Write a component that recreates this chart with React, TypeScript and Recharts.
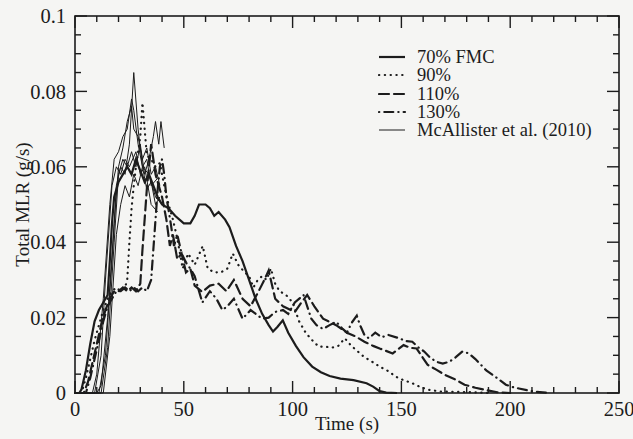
import React from "react";
import { LineChart, Line, XAxis, YAxis, Legend } from "recharts";

// [time s, total MLR g/s]
const FMC70: [number, number][] = [
  [0, 0], [2, 0], [3, 0.001], [5, 0.006], [7, 0.013], [9, 0.019], [11, 0.022], [13, 0.024],
  [15, 0.026], [16, 0.035], [17, 0.045], [18, 0.052], [20, 0.056], [22, 0.058], [24, 0.06],
  [26, 0.058], [28, 0.062], [30, 0.059], [32, 0.056], [34, 0.058], [36, 0.055], [38, 0.052],
  [40, 0.05], [43, 0.049], [46, 0.047], [50, 0.045], [53, 0.045], [55, 0.047], [57, 0.05],
  [60, 0.05], [62, 0.049], [64, 0.047], [66, 0.048], [69, 0.046], [71, 0.044], [74, 0.039],
  [77, 0.035], [80, 0.03], [83, 0.025], [86, 0.021], [89, 0.018], [91, 0.0163], [93, 0.0175],
  [95.5, 0.0193], [98, 0.016], [101.5, 0.0125], [105, 0.0095], [109, 0.007], [113, 0.0055],
  [117, 0.0045], [122, 0.0038], [128, 0.0034], [134, 0.0026], [137, 0.0017], [140, 0.0005],
  [143, 0.0001], [148, 0],
];

const FMC90: [number, number][] = [
  [0, 0], [3, 0], [5, 0.004], [7, 0.009], [9, 0.014], [11, 0.018], [13, 0.022], [15, 0.025],
  [17, 0.027], [19, 0.028], [21, 0.027], [23, 0.028], [24, 0.03], [25, 0.04], [26, 0.049],
  [27, 0.055], [28, 0.06], [30, 0.068], [31, 0.077], [32, 0.07], [33, 0.063], [35, 0.062],
  [37, 0.06], [39, 0.061], [41, 0.055], [43, 0.05], [45, 0.046], [47, 0.041], [49.5, 0.033],
  [52, 0.037], [55, 0.034], [58.7, 0.039], [61, 0.033], [64, 0.032], [67, 0.032], [70, 0.033],
  [72.5, 0.037], [75, 0.034], [78, 0.032], [80, 0.031], [82, 0.028], [84, 0.03], [86, 0.031],
  [88, 0.03], [90, 0.033], [92, 0.029], [94, 0.027], [97, 0.026], [100, 0.024], [103, 0.019],
  [106, 0.016], [109, 0.014], [112, 0.0123], [115, 0.0123], [118, 0.012], [121, 0.0125],
  [124, 0.0145], [127, 0.0125], [130, 0.011], [133, 0.0095], [136, 0.0085], [140, 0.007],
  [144, 0.0058], [147.5, 0.0043], [151, 0.0034], [155, 0.0026], [159, 0.0015], [163, 0.0008],
  [168, 0.0004], [175, 0.0003], [182, 0.0002], [190, 0],
];

const FMC110: [number, number][] = [
  [0, 0], [4, 0], [6, 0.003], [8, 0.008], [10, 0.013], [12, 0.018], [14, 0.022], [16, 0.025],
  [18, 0.027], [20, 0.027], [22, 0.028], [24, 0.027], [26, 0.028], [28, 0.027], [30, 0.029],
  [31, 0.038], [32, 0.046], [33, 0.054], [34, 0.06], [35, 0.066], [36, 0.062], [37, 0.058],
  [38, 0.056], [40, 0.052], [42, 0.046], [43.6, 0.039], [45, 0.042], [47, 0.0355], [49, 0.037],
  [51, 0.032], [53, 0.033], [55, 0.0285], [58.5, 0.0268], [62, 0.0285], [66, 0.029],
  [69.6, 0.027], [73, 0.03], [77, 0.025], [80.7, 0.023], [84.4, 0.027], [87, 0.03],
  [89, 0.0325], [92, 0.025], [95.6, 0.023], [101, 0.0215], [104, 0.024], [106.7, 0.026],
  [110, 0.023], [114, 0.0197], [120, 0.018], [125, 0.016], [129, 0.015], [133, 0.0136],
  [137, 0.0125], [140, 0.0118], [146, 0.0105], [151, 0.0127], [154, 0.012], [157, 0.0118],
  [162, 0.0075], [166, 0.0062], [170, 0.0048], [175, 0.0035], [179, 0.0022], [184, 0.0014],
  [188, 0.0009], [194, 0.0002], [200, 0],
];

const FMC130: [number, number][] = [
  [0, 0], [5, 0], [7, 0.004], [9, 0.009], [11, 0.014], [13, 0.019], [15, 0.023], [17, 0.025],
  [19, 0.027], [21, 0.027], [23, 0.028], [25, 0.027], [27, 0.028], [29, 0.027], [31, 0.028],
  [33, 0.027], [35, 0.03], [36, 0.038], [37, 0.046], [38, 0.054], [39, 0.06], [40, 0.062],
  [41, 0.058], [42, 0.052], [44, 0.045], [45.5, 0.039], [47, 0.042], [49, 0.037], [51, 0.0346],
  [53, 0.033], [55, 0.031], [58.5, 0.024], [62, 0.027], [65, 0.025], [67.7, 0.022], [70, 0.023],
  [73, 0.025], [77, 0.0197], [80.7, 0.022], [83, 0.021], [86, 0.0197], [89, 0.02], [92, 0.0215],
  [95.6, 0.022], [98, 0.021], [101, 0.024], [105, 0.026], [108.6, 0.0197], [111, 0.018],
  [114, 0.017], [117, 0.018], [120, 0.0189], [123, 0.017], [125, 0.016], [127, 0.0185],
  [129.5, 0.0205], [131, 0.018], [133, 0.0154], [135, 0.0145], [138, 0.016], [141, 0.0148],
  [144, 0.0154], [149, 0.0145], [152, 0.0138], [155, 0.0136], [158, 0.012], [160.5, 0.011],
  [163, 0.0095], [166, 0.0083], [169, 0.0078], [172, 0.0083], [175, 0.0095], [178, 0.011],
  [181, 0.0105], [184, 0.009], [186.5, 0.0075], [189, 0.006], [192, 0.0048], [195, 0.0035],
  [198, 0.0022], [201, 0.0016], [204, 0.0012], [208, 0.0007], [212, 0.0003], [218, 0],
];

// McAllister et al. (2010) experimental repeats, thin solid
const EXP1: [number, number][] = [
  [0, 0], [10, 0], [12, 0.002], [15, 0.02], [18, 0.045], [20, 0.06], [22, 0.065], [24, 0.072],
  [26, 0.076], [27, 0.07], [29, 0.068], [31, 0.062], [33, 0.065], [35, 0.058], [37, 0.06], [39, 0.055],
];
const EXP2: [number, number][] = [
  [0, 0], [11, 0], [14, 0.01], [17, 0.035], [19, 0.055], [21, 0.06], [23, 0.058], [25, 0.066],
  [27, 0.085], [29, 0.07], [31, 0.06], [33, 0.062], [35, 0.055], [38, 0.057],
];
const EXP3: [number, number][] = [
  [0, 0], [12, 0], [15, 0.012], [18, 0.04], [20, 0.058], [22, 0.062], [24, 0.06], [26, 0.064],
  [28, 0.06], [30, 0.066], [32, 0.058], [34, 0.062], [36, 0.068], [37, 0.072], [38.5, 0.066],
  [39.5, 0.072], [41, 0.065],
];
const EXP4: [number, number][] = [
  [0, 0], [8, 0], [10, 0.005], [13, 0.025], [16, 0.05], [18, 0.062], [20, 0.064], [22, 0.068],
  [24, 0.07], [26, 0.078], [27, 0.075], [29, 0.066], [31, 0.06], [34, 0.058], [37, 0.052], [40, 0.05],
];
const EXP5: [number, number][] = [
  [0, 0], [13, 0], [16, 0.015], [19, 0.042], [21, 0.05], [23, 0.055], [25, 0.052], [27, 0.058],
  [29, 0.055], [31, 0.06], [33, 0.054], [35, 0.056], [37, 0.05], [39, 0.052],
];
const EXP6: [number, number][] = [
  [0, 0], [9, 0], [12, 0.01], [14, 0.03], [17, 0.055], [19, 0.06], [21, 0.058], [23, 0.062],
  [25, 0.06], [28, 0.064], [30, 0.058], [32, 0.06], [35, 0.05], [38, 0.048],
];

const X_MAJOR = [0, 50, 100, 150, 200, 250];
const X_MINOR = [10, 20, 30, 40, 60, 70, 80, 90, 110, 120, 130, 140, 160, 170, 180, 190, 210, 220, 230, 240];
const Y_MAJOR = [0, 0.02, 0.04, 0.06, 0.08, 0.1];
const Y_MINOR = [0.005, 0.01, 0.015, 0.025, 0.03, 0.035, 0.045, 0.05, 0.055, 0.065, 0.07, 0.075, 0.085, 0.09, 0.095];

const LEGEND_ITEMS = [
  { name: "70% FMC", dash: undefined, width: 2.2 },
  { name: "90%", dash: "0.3 5.5", width: 2.2 },
  { name: "110%", dash: "10 5", width: 2.2 },
  { name: "130%", dash: "0.3 5 9 5", width: 2.2 },
  { name: "McAllister et al. (2010)", dash: undefined, width: 1 },
];

const W = 633;
const H = 439;
const MARGIN = { top: 16, right: 14, bottom: 16, left: 15 };
const Y_AXIS_W = 60;
const X_AXIS_H = 30;
const INK = "#1c1c1c";
const FONT = "'Liberation Serif', 'Times New Roman', serif";
const FS = 19;
const TICK_FS = 20.5;
const X_MAX = 250;
const Y_MAX = 0.1;
const MAJOR = 12;
const MINOR = 6;

const toPts = (arr: [number, number][]) => arr.map(([t, v]) => ({ t, v }));

const SIM = [
  { key: "70% FMC", data: FMC70, dash: undefined },
  { key: "90%", data: FMC90, dash: "0.3 5.5" },
  { key: "110%", data: FMC110, dash: "10 5" },
  { key: "130%", data: FMC130, dash: "0.3 5 9 5" },
];
const EXP = [EXP1, EXP2, EXP3, EXP4, EXP5, EXP6];

// box frame with inward ticks on all four sides, laid over the plot area
function Frame() {
  const L = MARGIN.left + Y_AXIS_W;
  const R = W - MARGIN.right;
  const T = MARGIN.top;
  const B = H - MARGIN.bottom - X_AXIS_H;
  const px = (t: number) => L + (t / X_MAX) * (R - L);
  const py = (v: number) => B - (v / Y_MAX) * (B - T);
  const marks: React.ReactNode[] = [];
  X_MAJOR.concat(X_MINOR).forEach((t) => {
    const len = X_MAJOR.includes(t) ? MAJOR : MINOR;
    const x = px(t);
    marks.push(<line key={`b${t}`} x1={x} x2={x} y1={B} y2={B - len} />);
    marks.push(<line key={`t${t}`} x1={x} x2={x} y1={T} y2={T + len} />);
  });
  Y_MAJOR.concat(Y_MINOR).forEach((v) => {
    const len = Y_MAJOR.includes(v) ? MAJOR : MINOR;
    const y = py(v);
    marks.push(<line key={`l${v}`} x1={L} x2={L + len} y1={y} y2={y} />);
    marks.push(<line key={`r${v}`} x1={R} x2={R - len} y1={y} y2={y} />);
  });
  return (
    <svg width={W} height={H} style={{ position: "absolute", left: 0, top: 0, pointerEvents: "none" }}>
      <g stroke={INK} strokeWidth={1.4}>{marks}</g>
      <rect x={L} y={T} width={R - L} height={B - T} fill="none" stroke={INK} strokeWidth={1.6} />
    </svg>
  );
}

function LegendBox() {
  return (
    <div style={{ fontFamily: FONT, fontSize: 18.5, color: INK, lineHeight: "18.3px" }}>
      {LEGEND_ITEMS.map((it) => (
        <div key={it.name} style={{ display: "flex", alignItems: "center", height: 18.3, whiteSpace: "nowrap" }}>
          <svg width={39} height={18} style={{ flex: "none" }}>
            <line
              x1={1}
              x2={27}
              y1={9}
              y2={9}
              stroke={INK}
              strokeWidth={it.width}
              strokeDasharray={it.dash}
              strokeLinecap={it.dash ? "round" : "butt"}
            />
          </svg>
          <span>{it.name}</span>
        </div>
      ))}
    </div>
  );
}

export default function App() {
  return (
    <div style={{ position: "absolute", left: 0, top: 0, width: W, height: H, background: "#f5f5f3" }}>
      <LineChart width={W} height={H} margin={MARGIN}>
        <XAxis
          xAxisId="b"
          type="number"
          dataKey="t"
          domain={[0, X_MAX]}
          ticks={X_MAJOR}
          interval={0}
          height={X_AXIS_H}
          tickLine={false}
          tickMargin={2}
          tick={{ fontSize: TICK_FS, fontFamily: FONT, fill: INK }}
          axisLine={false}
          label={{ value: "Time (s)", position: "bottom", offset: -6, fontSize: FS, fontFamily: FONT, fill: INK }}
        />
        <YAxis
          yAxisId="l"
          type="number"
          domain={[0, Y_MAX]}
          ticks={Y_MAJOR}
          interval={0}
          width={Y_AXIS_W}
          tickLine={false}
          tickMargin={3}
          tick={{ fontSize: TICK_FS, fontFamily: FONT, fill: INK }}
          tickFormatter={(v: number) => String(v)}
          axisLine={false}
          label={{
            value: "Total MLR (g/s)",
            angle: -90,
            position: "insideLeft",
            offset: 7,
            fontSize: FS,
            fontFamily: FONT,
            fill: INK,
            style: { textAnchor: "middle" },
          }}
        />
        <Legend
          layout="vertical"
          align="center"
          verticalAlign="middle"
          content={() => <LegendBox />}
          wrapperStyle={{ left: 378, top: 48, width: 240, height: 95 }}
        />
        {EXP.map((d, i) => (
          <Line
            key={`exp${i}`}
            xAxisId="b"
            yAxisId="l"
            data={toPts(d)}
            dataKey="v"
            stroke={INK}
            strokeWidth={1}
            dot={false}
            legendType="none"
            isAnimationActive={false}
          />
        ))}
        {SIM.map((s) => (
          <Line
            key={s.key}
            name={s.key}
            xAxisId="b"
            yAxisId="l"
            data={toPts(s.data)}
            dataKey="v"
            stroke={INK}
            strokeWidth={2.2}
            strokeDasharray={s.dash}
            strokeLinecap={s.dash ? "round" : "butt"}
            dot={false}
            isAnimationActive={false}
          />
        ))}
      </LineChart>
      <Frame />
    </div>
  );
}
